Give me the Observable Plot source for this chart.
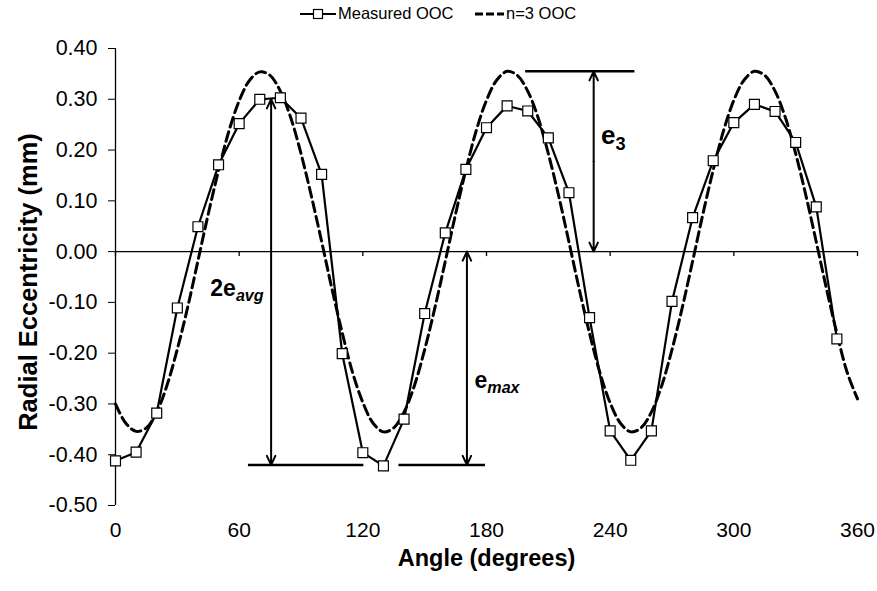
<!DOCTYPE html>
<html>
<head>
<meta charset="utf-8">
<script src="https://cdn.jsdelivr.net/npm/d3@7"></script>
<script src="https://cdn.jsdelivr.net/npm/@observablehq/plot@0.6"></script>
<style>
  body { margin: 0; background: #fff; font-family: "Liberation Sans", Arial, sans-serif; }
  #legend { position: relative; width: 877px; height: 26px; font-size: 16.5px; color: #000; }
  #legend .item { position: absolute; top: 4px; display: flex; align-items: center; white-space: nowrap; }
  #legend svg { display: block; margin-right: 2px; }
</style>
</head>
<body>
<div id="legend">
  <div class="item" style="left:300px">
    <svg width="36" height="18"><line x1="0" x2="36" y1="9" y2="9" stroke="#000" stroke-width="2"></line><rect x="13.5" y="4.5" width="9" height="9" fill="#fff" stroke="#000" stroke-width="1.2"></rect></svg>
    <span>Measured OOC</span>
  </div>
  <div class="item" style="left:475px">
    <svg width="29" height="18"><line x1="0" x2="29" y1="9" y2="9" stroke="#000" stroke-width="3" stroke-dasharray="8,3"></line></svg>
    <span>n=3 OOC</span>
  </div>
</div>
<div id="chart"></div>
<script>
// Measured out-of-circularity, sampled every 10 degrees
const measuredAngle = [0, 10, 20, 30, 40, 50, 60, 70, 80, 90, 100, 110, 120, 130, 140, 150, 160, 170,
  180, 190, 200, 210, 220, 230, 240, 250, 260, 270, 280, 290, 300, 310, 320, 330, 340, 350];
const measuredEcc = [-0.412, -0.395, -0.318, -0.111, 0.049, 0.171, 0.252, 0.300, 0.303, 0.263, 0.152, -0.201,
  -0.396, -0.422, -0.330, -0.122, 0.037, 0.162, 0.244, 0.287, 0.277, 0.224, 0.116, -0.130,
  -0.353, -0.411, -0.353, -0.098, 0.067, 0.179, 0.254, 0.290, 0.276, 0.215, 0.088, -0.172];

// Three-lobe (n=3) fitted out-of-circularity, every 5 degrees
const fitAngle = [0, 5, 10, 15, 20, 25, 30, 35, 40, 45, 50, 55, 60, 65, 70, 75, 80, 85, 90, 95, 100, 105, 110, 115,
  120, 125, 130, 135, 140, 145, 150, 155, 160, 165, 170, 175, 180, 185, 190, 195, 200, 205, 210, 215, 220, 225, 230, 235,
  240, 245, 250, 255, 260, 265, 270, 275, 280, 285, 290, 295, 300, 305, 310, 315, 320, 325, 330, 335, 340, 345, 350, 355, 360];
const fitEcc = [-0.300, -0.338, -0.354, -0.347, -0.316, -0.263, -0.192, -0.110, -0.018, 0.074, 0.160, 0.237,
  0.297, 0.337, 0.354, 0.347, 0.316, 0.264, 0.193, 0.110, 0.020, -0.073, -0.160, -0.238,
  -0.297, -0.338, -0.355, -0.347, -0.316, -0.264, -0.193, -0.110, -0.019, 0.074, 0.161, 0.238,
  0.298, 0.338, 0.355, 0.347, 0.316, 0.264, 0.193, 0.110, 0.019, -0.074, -0.161, -0.238,
  -0.298, -0.338, -0.355, -0.347, -0.316, -0.264, -0.193, -0.110, -0.019, 0.074, 0.161, 0.238,
  0.298, 0.338, 0.355, 0.347, 0.316, 0.264, 0.193, 0.110, 0.019, -0.074, -0.161, -0.238, -0.290];

// Axis ticks
const xTicks = [0, 60, 120, 180, 240, 300, 360];
const yTicks = [-0.5, -0.4, -0.3, -0.2, -0.1, 0, 0.1, 0.2, 0.3, 0.4];

// Dimension lines: reference levels and double-headed arrows
const refLevel = [-0.42, -0.42, 0.355];
const refFrom = [64.5, 137.5, 199];
const refTo = [120.5, 179.5, 252];

const dimAngle = [75.5, 170.5, 232];
const dimTop = [0.30, 0, 0.355];
const dimBottom = [-0.42, -0.42, 0];

const dimLabel = ["2e_avg", "e_max", "e_3"];
const dimLabelAngle = [46, 174.2, 235.6];
const dimLabelLevel = [-0.073, -0.254, 0.228];
const dimLabelSize = [23, 23, 26];

const xTitle = "Angle (degrees)";
const yTitle = "Radial Eccentricity (mm)";

const measured = measuredAngle.map((a, i) => ({angle: a, ecc: measuredEcc[i]}));
const fitted = fitAngle.map((a, i) => ({angle: a, ecc: fitEcc[i]}));
const refs = refLevel.map((v, i) => ({level: v, from: refFrom[i], to: refTo[i]}));
const arrows = dimAngle.flatMap((a, i) => {
  const mid = (dimTop[i] + dimBottom[i]) / 2;
  return [
    {angle: a, from: mid, to: dimTop[i]},
    {angle: a, from: mid, to: dimBottom[i]}
  ];
});
const labels = dimLabel.map((t, i) => ({text: t, angle: dimLabelAngle[i], level: dimLabelLevel[i], size: dimLabelSize[i]}));

const chart = Plot.plot({
  width: 877,
  height: 565,
  marginTop: 22,
  marginBottom: 86,
  marginLeft: 115,
  marginRight: 20,
  style: {fontFamily: "'Liberation Sans', Arial, sans-serif", color: "#000", background: "#fff"},
  x: {domain: [0, 360]},
  y: {domain: [-0.5, 0.4]},
  marks: [
    // vertical value axis and horizontal zero axis
    Plot.ruleX([0], {y1: -0.5, y2: 0.4, strokeWidth: 1.3}),
    Plot.ruleY([0], {x1: 0, x2: 360, strokeWidth: 1.3}),
    Plot.ruleX(xTicks, {y1: 0, y2: 0, insetBottom: -5, strokeWidth: 1.3}),
    Plot.axisY({ticks: yTicks, tickSize: 7, tickPadding: 11, tickFormat: d => d.toFixed(2), fontSize: 21.5, label: null}),
    Plot.axisX({ticks: xTicks, tickSize: 0, tickPadding: 17, tickFormat: d => String(d), fontSize: 21, label: null}),
    // fitted three-lobe curve
    Plot.line(fitted, {x: "angle", y: "ecc", stroke: "#000", strokeWidth: 3, strokeDasharray: "10,5", curve: "catmull-rom"}),
    // measured profile
    Plot.line(measured, {x: "angle", y: "ecc", stroke: "#000", strokeWidth: 2.2}),
    Plot.dot(measured, {x: "angle", y: "ecc", symbol: "square", r: 5.6, fill: "#fff", stroke: "#000", strokeWidth: 1.2}),
    // dimension lines
    Plot.ruleY(refs, {y: "level", x1: "from", x2: "to", stroke: "#000", strokeWidth: 2.5}),
    Plot.arrow(arrows, {x1: "angle", x2: "angle", y1: "from", y2: "to", stroke: "#000", strokeWidth: 2, headLength: 7.5, headAngle: 50}),
    Plot.text(labels, {x: "angle", y: "level", text: "text", textAnchor: "start", lineAnchor: "middle", fontSize: "size", fontWeight: "bold"}),
    // axis titles
    Plot.text([xTitle], {frameAnchor: "bottom", dy: 53, textAnchor: "middle", lineAnchor: "middle", fontSize: 23.5, fontWeight: "bold"}),
    Plot.text([yTitle], {frameAnchor: "left", dx: -87, dy: 5, rotate: -90, textAnchor: "middle", lineAnchor: "middle", fontSize: 25.5, fontWeight: "bold"})
  ]
});

// Render "base_sub" labels with a subscript
d3.select(chart).selectAll("text").each(function () {
  const t = this.textContent;
  if (!t.includes("_")) return;
  const [base, sub] = t.split("_");
  const sel = d3.select(this);
  sel.text(null);
  sel.append("tspan").text(base);
  sel.append("tspan")
    .attr("dy", "0.32em")
    .attr("font-size", "0.7em")
    .attr("font-style", /[a-z]/.test(sub) ? "italic" : "normal")
    .text(sub);
});

document.getElementById("chart").appendChild(chart);
</script>
</body>
</html>
